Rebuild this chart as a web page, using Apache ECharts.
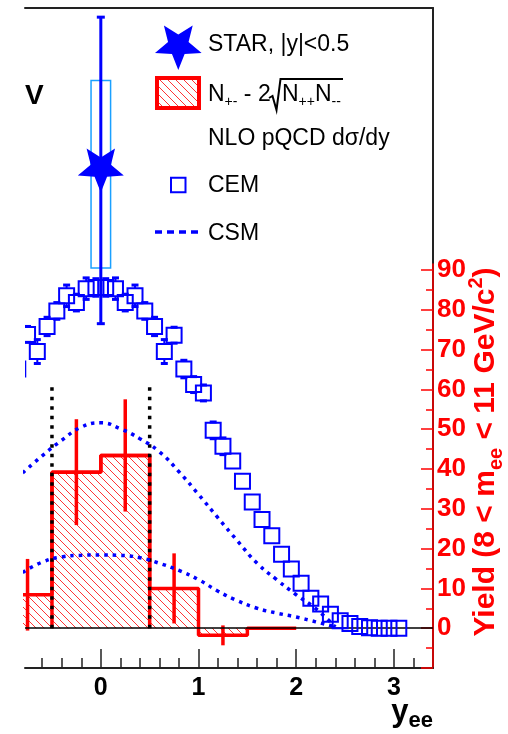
<!DOCTYPE html>
<html>
<head>
<meta charset="utf-8">
<title>Dielectron yield vs rapidity</title>
<script src="https://cdn.jsdelivr.net/npm/echarts@6.0.0/dist/echarts.min.js"></script>
<style>
  html, body { margin: 0; padding: 0; background: #fff; }
  #chart { width: 508px; height: 734px; }
</style>
</head>
<body>
<div id="chart"></div>
<script>
// Measured yield N+- - 2*sqrt(N++ N--), binned in rapidity: bin edges, contents, stat. errors
const histEdges = [-1.0, -0.5, 0.0, 0.5, 1.0, 1.5, 2.0];
const histYield = [8.4, 39.2, 43.4, 10.0, -1.8, 0.0];
const histErr   = [9.0, 13.3, 14.1, 8.8, 2.5, 0.0];

// STAR acceptance window |y| < 0.5 and the height of its marker lines
const accEdges = [-0.5, 0.5];
const accTop = 60.5;

// STAR point at mid-rapidity (stat. error bar and systematic box)
const starY = [0.0];
const starYield = [115.0];
const starStat = [38.5];
const starSysLow = [90.5];
const starSysHigh = [137.6];
const starSysHalfWidth = 0.1;

// NLO pQCD d(sigma)/dy, colour evaporation model
const cemY = [-0.85, -0.75, -0.65, -0.55, -0.45, -0.35, -0.25, -0.15, -0.05, 0.05,
              0.15, 0.25, 0.35, 0.45, 0.55, 0.65, 0.75, 0.85, 0.95, 1.05,
              1.15, 1.25, 1.35, 1.45, 1.55, 1.65, 1.75, 1.85, 1.95, 2.05,
              2.15, 2.25, 2.35, 2.45, 2.55, 2.65, 2.75, 2.85, 2.95, 3.05];
const cemYield = [65.1, 73.8, 69.5, 75.8, 79.7, 83.5, 81.8, 85.3, 85.6, 85.6,
                  85.3, 81.8, 83.5, 79.7, 75.8, 69.5, 73.6, 65.1, 61.2, 59.1,
                  49.7, 45.7, 42.0, 36.9, 31.7, 27.3, 23.2, 18.6, 14.9, 11.3,
                  7.5, 6.1, 3.5, 1.9, 1.2, 0.4, 0.1, 0.0, 0.0, 0.0];
const cemErr = [2.2, 2.0, 3.0, 2.3, 2.1, 2.7, 2.1, 2.7, 2.2, 2.2,
                2.7, 2.1, 2.7, 2.1, 2.3, 3.0, 2.0, 2.2, 2.0, 2.0,
                2.1, 2.1, 0, 0, 0, 0, 0, 0, 0, 0,
                0, 0, 0, 0, 0, 0, 0, 0, 0, 0];

// NLO pQCD d(sigma)/dy, colour singlet model (upper and lower curve)
const csmY = [-0.8, -0.6, -0.4, -0.2, 0.0, 0.2, 0.4, 0.6, 0.8, 1.0, 1.2, 1.4, 1.6, 1.8, 2.0, 2.2, 2.4];
const csmUpper = [39.0, 43.3, 47.2, 50.5, 51.6, 50.1, 47.6, 44.3, 39.3, 33.6, 27.7, 21.9, 16.3, 12.2, 8.4, 4.9, 0.3];
const csmLower = [14.0, 16.6, 17.9, 18.3, 18.4, 18.3, 17.7, 16.3, 14.5, 12.2, 9.3, 6.9, 5.0, 3.8, 2.8, 1.6, 0.3];

// Axis ticks
const xMajorTicks = [0, 1, 2, 3];
const xMinorTicks = [-0.6, -0.4, -0.2, 0.2, 0.4, 0.6, 0.8, 1.2, 1.4, 1.6, 1.8, 2.2, 2.4, 2.6, 2.8, 3.2];
const yMajorTicks = [-10, 0, 10, 20, 30, 40, 50, 60, 70, 80, 90];
const yTickLabels = [0, 10, 20, 30, 40, 50, 60, 70, 80, 90];
const yMinorTicks = [-5, 5, 15, 25, 35, 45, 55, 65, 75, 85];

// ---------------------------------------------------------------
const BLUE = '#0000ff';
const RED = '#ff0000';
const SYS_BLUE = '#1aa0ff';
const FONT = "'Liberation Sans', Arial, Helvetica, sans-serif";
const X_MIN = -0.776, X_MAX = 3.4;
const Y_MIN = -10, Y_TOP = 155.8, RED_TOP = 91.5;

// diagonal red hatching used for the histogram fill
function makeHatch(step, color, width) {
  const c = document.createElement('canvas');
  c.width = step; c.height = step;
  const g = c.getContext('2d');
  g.strokeStyle = color; g.lineWidth = width;
  g.beginPath();
  for (let k = -1; k <= 1; k++) { g.moveTo(k * step, 0); g.lineTo(k * step + step, step); }
  g.stroke();
  return c;
}
const hatch = { image: makeHatch(8, RED, 0.8), repeat: 'repeat' };

// five-pointed star, one point down
function starPoints(cx, cy, R) {
  const pts = [];
  for (let i = 0; i < 10; i++) {
    const a = Math.PI / 2 + i * Math.PI / 5;
    const r = i % 2 === 0 ? R : R * 0.44;
    pts.push([cx + r * Math.cos(a), cy + r * Math.sin(a)]);
  }
  return pts;
}
const starPath = 'path://' + starPoints(0, 0, 100)
  .map((p, i) => (i ? 'L' : 'M') + p[0].toFixed(2) + ' ' + p[1].toFixed(2)).join(' ') + ' Z';

// histogram as a step outline: each edge carries the content of the bin it opens
const histLine = histEdges.map((e, i) => [e, histYield[Math.min(i, histYield.length - 1)]]);
// outline of the bins inside the acceptance window, closed down to zero
const accOutline = [[accEdges[0], 0]];
for (let i = 0; i < histYield.length; i++) {
  if (histEdges[i] >= accEdges[0] && histEdges[i + 1] <= accEdges[1]) {
    accOutline.push([histEdges[i], histYield[i]], [histEdges[i + 1], histYield[i]]);
  }
}
accOutline.push([accEdges[1], 0]);
const histErrData = histYield.map((v, i) => [(histEdges[i] + histEdges[i + 1]) / 2, v, histErr[i]]);
const cemData = cemY.map((y, i) => [y, cemYield[i], cemErr[i]]);
const starData = starY.map((y, i) => [y, starYield[i], starStat[i], starSysLow[i], starSysHigh[i]]);

const chart = echarts.init(document.getElementById('chart'), null, { renderer: 'canvas' });

const option = {
  animation: false,
  backgroundColor: '#fff',
  grid: [
    { left: 25, right: 75, top: 8, bottom: 66, outerBoundsMode: 'none' },
    { left: 25, right: 75, top: 264, bottom: 66, outerBoundsMode: 'none' }
  ],
  xAxis: [
    { // main axis with labels
      type: 'value', gridIndex: 0, min: X_MIN, max: X_MAX, position: 'bottom',
      axisLine: { onZero: false, lineStyle: { color: '#222', width: 2 } },
      axisTick: { inside: true, length: 19, customValues: xMajorTicks, lineStyle: { color: '#222', width: 1.5 } },
      axisLabel: { customValues: xMajorTicks, margin: 8, color: '#000', fontSize: 25, fontWeight: 'bold', fontFamily: FONT },
      splitLine: { show: false }
    },
    { // minor ticks
      type: 'value', gridIndex: 0, min: X_MIN, max: X_MAX, position: 'bottom', offset: 0,
      axisLine: { show: false, onZero: false },
      axisTick: { inside: true, length: 10, customValues: xMinorTicks, lineStyle: { color: '#222', width: 1.5 } },
      axisLabel: { show: false }, splitLine: { show: false }
    },
    { // top frame line
      type: 'value', gridIndex: 0, min: X_MIN, max: X_MAX, position: 'top',
      axisLine: { onZero: false, lineStyle: { color: '#222', width: 2 } },
      axisTick: { show: false }, axisLabel: { show: false }, splitLine: { show: false }
    },
    { type: 'value', gridIndex: 1, min: X_MIN, max: X_MAX, show: false }
  ],
  yAxis: [
    { // frame on the right, full height
      type: 'value', gridIndex: 0, min: Y_MIN, max: Y_TOP, position: 'right',
      axisLine: { show: true, onZero: false, lineStyle: { color: '#222', width: 2 } },
      axisTick: { show: false }, axisLabel: { show: false }, splitLine: { show: false }
    },
    { // red yield axis
      type: 'value', gridIndex: 1, min: Y_MIN, max: RED_TOP, position: 'right', offset: 0,
      axisLine: { show: true, onZero: false, lineStyle: { color: RED, width: 1.5 } },
      axisTick: { inside: true, length: 12, customValues: yMajorTicks, lineStyle: { color: RED, width: 1.5 } },
      axisLabel: { customValues: yTickLabels, margin: 4, color: RED, fontSize: 26, fontWeight: 'bold', fontFamily: FONT },
      splitLine: { show: false }
    },
    { // red minor ticks
      type: 'value', gridIndex: 1, min: Y_MIN, max: RED_TOP, position: 'right', offset: 0,
      axisLine: { show: false, onZero: false },
      axisTick: { inside: true, length: 7, customValues: yMinorTicks, lineStyle: { color: RED, width: 1.5 } },
      axisLabel: { show: false }, splitLine: { show: false }
    }
  ],
  series: [
    { // zero reference line
      type: 'line', xAxisIndex: 0, yAxisIndex: 0, data: [], z: 1, silent: true,
      markLine: {
        silent: true, symbol: ['none', 'none'], label: { show: false },
        lineStyle: { color: '#000', width: 1.5, type: 'solid' },
        data: [{ yAxis: 0 }]
      }
    },
    { // hatched histogram
      type: 'line', xAxisIndex: 0, yAxisIndex: 0, step: 'end', data: histLine, z: 2,
      symbol: 'none', lineStyle: { color: RED, width: 3.5 },
      areaStyle: { color: hatch, opacity: 1 }
    },
    { // outline of the bins inside |y| < 0.5
      type: 'line', xAxisIndex: 0, yAxisIndex: 0, data: accOutline, z: 3,
      symbol: 'none', lineStyle: { color: RED, width: 3.5 }
    },
    { // histogram stat. errors
      type: 'custom', xAxisIndex: 0, yAxisIndex: 0, data: histErrData, z: 4, clip: true,
      renderItem(params, api) {
        const x = api.value(0), v = api.value(1), e = api.value(2);
        if (!(e > 0)) return null;
        const p1 = api.coord([x, v + e]), p2 = api.coord([x, v - e]);
        return { type: 'line', shape: { x1: p1[0], y1: p1[1], x2: p2[0], y2: p2[1] },
                 style: { stroke: RED, lineWidth: 3.5 } };
      }
    },
    { // acceptance window markers
      type: 'custom', xAxisIndex: 0, yAxisIndex: 0, data: accEdges.map(x => [x, accTop]), z: 5, clip: true,
      renderItem(params, api) {
        const x = api.value(0);
        const p1 = api.coord([x, 0]), p2 = api.coord([x, api.value(1)]);
        return { type: 'line', shape: { x1: p1[0], y1: p1[1], x2: p2[0], y2: p2[1] },
                 style: { stroke: '#000', lineWidth: 3.5, lineDash: [3.5, 6] } };
      }
    },
    { // CEM
      type: 'custom', xAxisIndex: 0, yAxisIndex: 0, data: cemData, z: 6, clip: true,
      renderItem(params, api) {
        const x = api.value(0), v = api.value(1), e = api.value(2);
        const c = api.coord([x, v]);
        const h = 7.5;
        const children = [{
          type: 'rect', shape: { x: c[0] - h, y: c[1] - h, width: 2 * h, height: 2 * h },
          style: { fill: 'none', stroke: BLUE, lineWidth: 2 }
        }];
        if (e > 0) {
          const top = api.coord([x, v + e])[1], bot = api.coord([x, v - e])[1];
          if (c[1] - top > h) children.push({ type: 'line', shape: { x1: c[0], y1: top, x2: c[0], y2: c[1] - h }, style: { stroke: BLUE, lineWidth: 2 } });
          if (bot - c[1] > h) children.push({ type: 'line', shape: { x1: c[0], y1: c[1] + h, x2: c[0], y2: bot }, style: { stroke: BLUE, lineWidth: 2 } });
          [top, bot].forEach(yy => children.push({
            type: 'rect', shape: { x: c[0] - 3.5, y: yy - 1.5, width: 7, height: 3 }, style: { fill: BLUE }
          }));
        }
        return { type: 'group', children };
      }
    },
    { // CSM upper
      type: 'line', xAxisIndex: 0, yAxisIndex: 0, data: csmY.map((y, i) => [y, csmUpper[i]]), z: 7,
      smooth: true, symbol: 'none', lineStyle: { color: BLUE, width: 3.5, type: [3.5, 5] }
    },
    { // CSM lower
      type: 'line', xAxisIndex: 0, yAxisIndex: 0, data: csmY.map((y, i) => [y, csmLower[i]]), z: 7,
      smooth: true, symbol: 'none', lineStyle: { color: BLUE, width: 3.5, type: [3.5, 5] }
    },
    { // STAR: systematic box and stat. error bar
      type: 'custom', xAxisIndex: 0, yAxisIndex: 0, data: starData, z: 8, clip: true,
      renderItem(params, api) {
        const x = api.value(0), v = api.value(1), st = api.value(2);
        const b1 = api.coord([x - starSysHalfWidth, api.value(4)]);
        const b2 = api.coord([x + starSysHalfWidth, api.value(3)]);
        const t = api.coord([x, v + st]), b = api.coord([x, v - st]);
        return { type: 'group', children: [
          { type: 'rect', shape: { x: b1[0], y: b1[1], width: b2[0] - b1[0], height: b2[1] - b1[1] },
            style: { fill: 'none', stroke: SYS_BLUE, lineWidth: 1.5 } },
          { type: 'line', shape: { x1: t[0], y1: t[1], x2: b[0], y2: b[1] }, style: { stroke: BLUE, lineWidth: 3 } },
          { type: 'rect', shape: { x: t[0] - 4, y: t[1] - 1.5, width: 8, height: 3 }, style: { fill: BLUE } },
          { type: 'rect', shape: { x: b[0] - 4, y: b[1] - 1.5, width: 8, height: 3 }, style: { fill: BLUE } }
        ] };
      }
    },
    { // STAR marker
      type: 'scatter', xAxisIndex: 0, yAxisIndex: 0, z: 9,
      data: starY.map((y, i) => [y, starYield[i]]),
      symbol: starPath, symbolSize: [46, 44], itemStyle: { color: BLUE, opacity: 1 }
    }
  ],
  graphic: [
    // partial heading at the left edge
    { type: 'text', x: 25, y: 96, z: 100,
      style: { text: 'V', fontSize: 28, fontWeight: 'bold', fontFamily: FONT, fill: '#000',
               align: 'left', verticalAlign: 'middle', textAlign: 'left', textVerticalAlign: 'middle' } },
    // legend
    { type: 'polygon', z: 100, shape: { points: starPoints(178.3, 45.4, 24.5) }, style: { fill: BLUE } },
    { type: 'text', x: 208, y: 45, z: 100,
      style: { text: 'STAR, |y|<0.5', fontSize: 23, fontFamily: FONT, fill: '#000',
               align: 'left', verticalAlign: 'middle', textAlign: 'left', textVerticalAlign: 'middle' } },
    { type: 'rect', z: 100, shape: { x: 157, y: 78, width: 42, height: 30 },
      style: { fill: hatch, stroke: RED, lineWidth: 4 } },
    { type: 'text', x: 208, y: 94.5, z: 100,
      style: { text: 'N{s|+-} - 2', fontSize: 23, fontFamily: FONT, fill: '#000', lineHeight: 30,
               align: 'left', verticalAlign: 'middle', textAlign: 'left', textVerticalAlign: 'middle',
               rich: { s: { fontSize: 14, fontFamily: FONT, fill: '#000', lineHeight: 12, verticalAlign: 'bottom' } } } },
    { type: 'polyline', z: 100,
      shape: { points: [[269, 98], [272.5, 96], [276.5, 110], [280.5, 79], [343, 79]] },
      style: { stroke: '#000', lineWidth: 2, fill: null } },
    { type: 'text', x: 282, y: 94.5, z: 100,
      style: { text: 'N{s|++}N{s|--}', fontSize: 23, fontFamily: FONT, fill: '#000', lineHeight: 30,
               align: 'left', verticalAlign: 'middle', textAlign: 'left', textVerticalAlign: 'middle',
               rich: { s: { fontSize: 14, fontFamily: FONT, fill: '#000', lineHeight: 12, verticalAlign: 'bottom' } } } },
    { type: 'text', x: 208, y: 139, z: 100,
      style: { text: 'NLO pQCD dσ/dy', fontSize: 23, fontFamily: FONT, fill: '#000',
               align: 'left', verticalAlign: 'middle', textAlign: 'left', textVerticalAlign: 'middle' } },
    { type: 'rect', z: 100, shape: { x: 171, y: 177.7, width: 14.5, height: 14.5 },
      style: { fill: 'none', stroke: BLUE, lineWidth: 2 } },
    { type: 'text', x: 208, y: 186, z: 100,
      style: { text: 'CEM', fontSize: 23, fontFamily: FONT, fill: '#000',
               align: 'left', verticalAlign: 'middle', textAlign: 'left', textVerticalAlign: 'middle' } },
    { type: 'line', z: 100, shape: { x1: 155, y1: 232, x2: 198, y2: 232 },
      style: { stroke: BLUE, lineWidth: 3.5, lineDash: [7, 5] } },
    { type: 'text', x: 208, y: 234, z: 100,
      style: { text: 'CSM', fontSize: 23, fontFamily: FONT, fill: '#000',
               align: 'left', verticalAlign: 'middle', textAlign: 'left', textVerticalAlign: 'middle' } },
    // axis titles
    { type: 'text', x: 433, y: 712, z: 100,
      style: { text: '{y|y}{e|ee}', align: 'right', verticalAlign: 'middle', textAlign: 'right', textVerticalAlign: 'middle',
               rich: {
                 y: { fontSize: 31, fontWeight: 'bold', fontFamily: FONT, fill: '#000', lineHeight: 40 },
                 e: { fontSize: 22, fontWeight: 'bold', fontFamily: FONT, fill: '#000', lineHeight: 16, verticalAlign: 'bottom' }
               } } },
    { type: 'text', x: 486, y: 452, rotation: Math.PI / 2, z: 100,
      style: { text: 'Yield (8 < m{sub|ee} < 11 GeV/c{sup|2})', fontSize: 30, fontWeight: 'bold', fontFamily: FONT,
               fill: RED, lineHeight: 40,
               align: 'center', verticalAlign: 'middle', textAlign: 'center', textVerticalAlign: 'middle',
               rich: {
                 sub: { fontSize: 20, fontWeight: 'bold', fontFamily: FONT, fill: RED, lineHeight: 18, verticalAlign: 'bottom' },
                 sup: { fontSize: 20, fontWeight: 'bold', fontFamily: FONT, fill: RED, lineHeight: 22, verticalAlign: 'top' }
               } } }
  ]
};

chart.setOption(option);
</script>
</body>
</html>
